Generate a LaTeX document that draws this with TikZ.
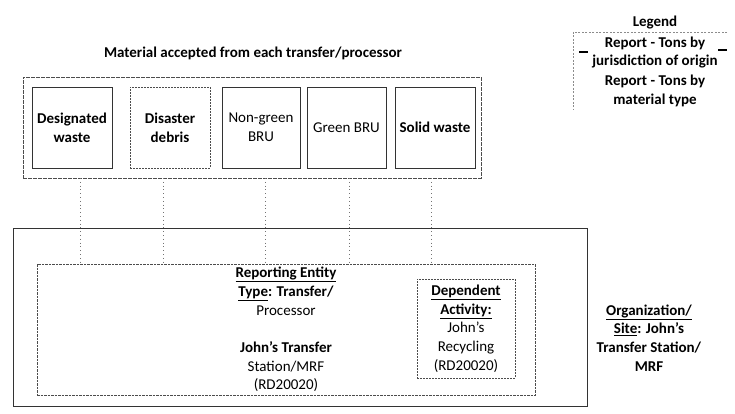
\documentclass[tikz,border=0pt]{standalone}
\usepackage{fontspec}
\setmainfont{Carlito}
\begin{document}
\begin{tikzpicture}[x=1pt,y=-1pt,
  every node/.style={font=\fontsize{15}{18.7}\selectfont, inner sep=0pt, align=center, text=black},
  srcbox/.style={draw=black!70, line width=0.6pt, dash pattern=on 4pt off 1pt, minimum width=458pt, minimum height=101pt},
  matbox/.style={draw=black!80, line width=0.7pt, minimum width=#1, minimum height=81pt},
  dashbox/.style={draw=black!70, line width=0.6pt, dash pattern=on 2pt off 1pt},
  orgbox/.style={draw=black!80, line width=0.8pt, minimum width=574pt, minimum height=178pt},
  repbox/.style={draw=black!70, line width=0.6pt, dash pattern=on 2.5pt off 1pt, minimum width=498pt, minimum height=131pt},
  depbox/.style={draw=black!70, line width=0.6pt, dash pattern=on 2pt off 1pt, minimum width=98pt, minimum height=99pt},
  conn/.style={draw=black!55, line width=0.7pt, dash pattern=on 0.8pt off 3pt},
  legline/.style={draw=black!45, line width=0.5pt, dash pattern=on 2pt off 1.5pt},
  legmark/.style={draw=black, line width=1.6pt},
  bf/.style={font=\fontsize{15}{18.7}\selectfont\bfseries}
]
\useasboundingbox (0,0) rectangle (735,414);

% title
\node[bf] (ttl) at (253,53) {Material accepted from each transfer/processor};

% source group
\node[srcbox] (src) at (252,127.5) {};
\node[matbox=80pt, bf] (des) at (72,127.5) {Designated\\waste};
\node[matbox=80pt, dashbox, bf] (dis) at (170,127.5) {Disaster\\debris};
\node[matbox=78pt] (ngr) at (261,127.5) {Non-green\\BRU};
\node[matbox=79pt] (grn) at (346.5,127.5) {Green BRU};
\node[matbox=80pt, bf] (sol) at (435,127.5) {Solid waste};

% organization / site
\node[orgbox] (org) at (300,317) {};
\node[repbox] (rep) at (286,329.5) {\textbf{\underline{Reporting Entity}}\\
  \textbf{\underline{Type}: Transfer/}\\
  Processor\\[18.7pt]
  \textbf{John’s Transfer}\\
  Station/MRF\\
  (RD20020)};
\node[depbox] (dep) at (466,328.5) {\textbf{\underline{Dependent}}\\
  \textbf{\underline{Activity:}}\\
  John’s\\
  Recycling\\
  (RD20020)};
\node (orglbl) at (649,338) {\textbf{\underline{Organization/}}\\
  \textbf{\underline{Site}: John’s}\\
  \textbf{Transfer Station/}\\
  \textbf{MRF}};

% connectors
\foreach \n/\x in {1/80,2/163,3/265,4/349,5/431}{
  \coordinate (t\n) at (\x,178);
  \draw[conn] (t\n) -- (t\n |- rep.north);
}

% legend
\node[bf] (leg) at (655,23) {Legend};
\coordinate (lgtl) at (573,32);
\coordinate (lgtr) at (727,32);
\coordinate (lgbl) at (573,110);
\draw[legline] (lgtr) -- (lgtl) -- (lgbl);
\node[bf] (l1) at (655,52.5) {Report - Tons by\\jurisdiction of origin};
\node[bf] (l2) at (655,91) {Report - Tons by\\material type};
\coordinate (m1a) at (579,52); \coordinate (m1b) at (588,52);
\coordinate (m2a) at (718,50); \coordinate (m2b) at (727,50);
\draw[legmark] (m1a) -- (m1b);
\draw[legmark] (m2a) -- (m2b);
\end{tikzpicture}
\end{document}
